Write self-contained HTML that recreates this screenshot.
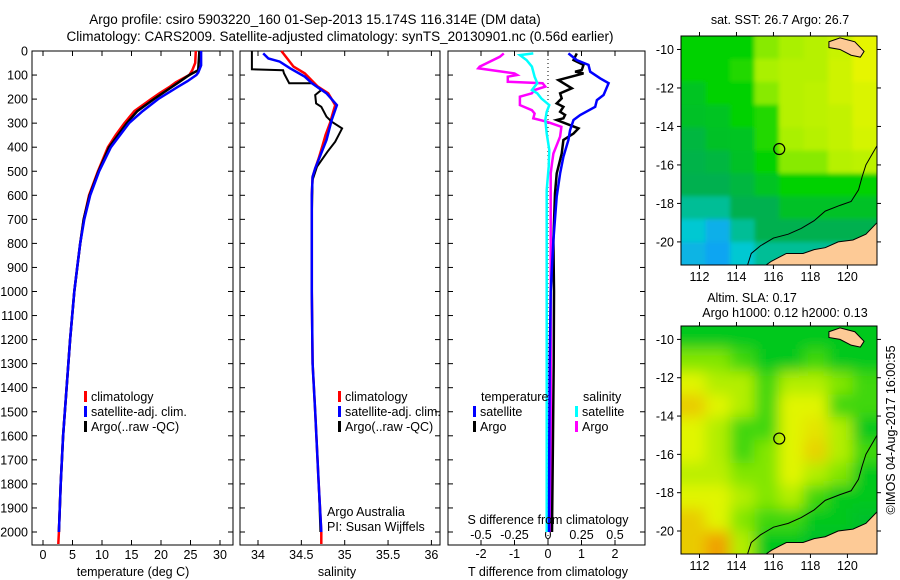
<!DOCTYPE html>
<html><head><meta charset="utf-8"><style>
body{margin:0;background:#fff;}
svg{display:block;font-family:"Liberation Sans",sans-serif;}
text{font-size:12.5px;fill:#000;}
</style></head><body>
<svg id="fig" width="900" height="580" viewBox="0 0 900 580">
<defs>
<clipPath id="clipTop"><rect x="681" y="36" width="196" height="229"/></clipPath>
<clipPath id="clipBot"><rect x="681" y="326" width="196" height="228"/></clipPath>
<filter id="blurA" x="-20%" y="-20%" width="140%" height="140%"><feGaussianBlur stdDeviation="2"/></filter>
<filter id="blurB" x="-20%" y="-20%" width="140%" height="140%"><feGaussianBlur stdDeviation="7"/></filter>
</defs>
<text x="315" y="24" text-anchor="middle" style="font-size:13.5px">Argo profile: csiro 5903220_160 01-Sep-2013 15.174S 116.314E (DM data)</text>
<text x="340" y="41" text-anchor="middle" style="font-size:13.5px">Climatology: CARS2009. Satellite-adjusted climatology: synTS_20130901.nc (0.56d earlier)</text>
<g id="panels"></g>
<g id="maps"></g>
<text x="780" y="24" text-anchor="middle">sat. SST: 26.7 Argo: 26.7</text>
<text x="752" y="302" text-anchor="middle">Altim. SLA: 0.17</text>
<text x="785" y="317" text-anchor="middle">Argo h1000: 0.12 h2000: 0.13</text>
<text transform="translate(895,430) rotate(-90)" text-anchor="middle">©IMOS 04-Aug-2017 16:00:55</text>
</svg>
<script>
// ---------- DATA ----------
const tempClimDepth=[0,50,80,100,130,150,175,200,250,300,350,400,500,600,700,800,900,1000,1200,1400,1600,1800,2000,2050];
const tempClim=[25.9,25.8,25.3,24.8,22.5,21.4,19.8,18.3,15.5,13.8,12.3,11,9.3,7.8,6.9,6.3,5.8,5.3,4.6,4.0,3.4,3.0,2.7,2.6];
const tempSatDepth=[0,60,90,100,125,150,200,250,300,400,500,600,700,800,900,1000,1200,1400,1600,1800,2000];
const tempSat=[26.8,26.8,26.3,26,24.5,22.8,19.5,16.9,14.6,11.5,9.5,8,7,6.3,5.8,5.3,4.6,4.0,3.4,3.0,2.7];
const tempArgoDepth=[0,80,100,130,150,200,250,300,400,500,600,700,800,1000,1200,1400,1600,1800,2000];
const tempArgo=[26.5,26.3,24.8,23,21.8,18.8,16,14.2,11.2,9.4,7.9,6.9,6.3,5.3,4.6,4,3.4,3,2.7];

const salClimDepth=[0,65,93,148,176,225,250,300,349,398,446,488,523,600,1000,1300,1500,1800,2000,2050];
const salClim=[34.27,34.41,34.54,34.69,34.81,34.89,34.87,34.83,34.78,34.74,34.7,34.66,34.63,34.62,34.62,34.63,34.66,34.7,34.73,34.73];
const salSatDepth=[10,31,44,72,107,134,176,225,287,370,488,523,600,1000,1300,1500,1800,2000];
const salSat=[34.06,34.12,34.25,34.37,34.54,34.62,34.79,34.91,34.85,34.79,34.66,34.63,34.62,34.62,34.63,34.66,34.7,34.73];
const salArgoDepth=[0,76,80,93,134,134,162,183,218,232,273,294,322,377,419,481,536,700,1000,1300,1500,1800,2000];
const salArgo=[33.93,33.93,34.29,34.3,34.36,34.62,34.73,34.66,34.67,34.73,34.79,34.85,34.97,34.89,34.8,34.68,34.63,34.62,34.62,34.63,34.66,34.7,34.72];

const dTsatDepth=[10,38,58,86,114,134,183,204,232,266,287,329,370,440,509,606,786,1000,1300,1600,2000];
const dTsat=[0.61,0.86,1.21,1.26,1.56,1.81,1.66,1.46,1.41,0.96,0.76,0.66,0.61,0.46,0.36,0.26,0.16,0.08,0.05,0.04,0.03];
const dTargoDepth=[10,38,58,79,86,93,121,155,176,197,218,232,253,266,280,287,322,343,370,426,481,509,592,786,1000,1300,1600,2000];
const dTargo=[0.86,0.76,1.06,1.01,0.81,1.06,0.31,0.71,0.36,0.41,0.26,0.46,0.36,0.51,0.46,0.26,0.91,0.76,0.46,0.41,0.31,0.26,0.21,0.16,0.18,0.17,0.15,0.12];
const dSsatDepth=[10,17,38,65,107,134,162,176,197,225,253,287,343,412,481,578,786,1200,1600,2000];
const dSsat=[-0.11,-0.21,-0.16,-0.12,-0.1,-0.08,-0.12,-0.08,-0.05,0.01,-0.01,-0.02,-0.01,0.01,0.005,-0.01,-0.01,-0.01,-0.01,-0.01];
const dSargoDepth=[10,24,65,72,93,100,107,128,134,148,162,176,190,225,246,260,280,294,315,356,384,426,467,509,786,1200,1600,2000];
const dSargo=[-0.33,-0.36,-0.51,-0.52,-0.25,-0.23,-0.3,-0.3,-0.04,-0.02,-0.1,-0.12,-0.21,-0.21,-0.12,-0.1,-0.11,-0.01,0.1,0.09,0.07,0.04,0.03,0.02,0.02,0.02,0.02,0.02];

const depthTicks=[0,100,200,300,400,500,600,700,800,900,1000,1100,1200,1300,1400,1500,1600,1700,1800,1900,2000];
const tempTicks=[0,5,10,15,20,25,30];
const salTicks=[34,34.5,35,35.5,36];
const dTTicks=[-2,-1,0,1,2];
const dSTicks=[-0.5,-0.25,0,0.25,0.5];

// maps: lon 111.0..121.6, lat -9.3..-21.2 ; 8 cols x 10 rows
const sstGrid=[
[3,3,3,3.8,4,4.2,4.5,5],
[3,3,3.2,4,4.2,4.2,4.6,5],
[2.6,3,3,3.8,4.2,4.3,4.6,4.8],
[2.5,2.6,3,3.2,4.2,4.3,4.4,4.8],
[2.2,2.5,2.6,3.2,4,4.2,4.4,4.7],
[2.1,2.2,2.5,3,3.8,3.8,4.2,4.3],
[2,2,2.2,2.6,3,3,3,3],
[1.5,1.5,2,2,2.5,2.5,2.5,2.5],
[1,0.5,1.5,2,2,2,2,2],
[0.6,0.3,1,1.5,1.5,1.5,1.5,1.5]];
const slaGrid=[
[1,1,1,1,1,1,1,1],
[2,2,1.5,1,1,1.5,1,1],
[3,2.5,2.5,1.5,2.5,2.5,2,1.5],
[3.5,3,2.5,1.5,3,3,1.5,1.5],
[3,2.5,1.5,1.5,3,3.2,2.5,1],
[3,2.5,1.5,2,3,3.4,2.5,1.5],
[2.6,2.6,2,2,3,2.5,2,1],
[3,3,2.5,2,2.5,1.5,1,1],
[3.5,3,2,1.5,1.5,1,1,0.8],
[3.5,4,2.5,1,1,0.8,0.8,0.8]];
const coastLon=[121.6,121,120.3,119.5,118.8,118.2,117.6,117,116.7,116.3,115.9,115.6];
const coastLat=[-19.0,-19.6,-19.9,-20.0,-20.3,-20.4,-20.6,-20.6,-20.6,-20.8,-21.0,-21.2];
const islandLon=[119,119.6,120.4,120.9,120.7,120.2,119.6,119.0];
const islandLat=[-9.6,-9.4,-9.6,-10.1,-10.4,-10.3,-10.0,-9.9];
const contourLon=[114.6,114.8,115.3,116,116.8,117.5,118.2,118.8,119.6,120.2,120.6,120.8,121,121.6];
const contourLat=[-21.2,-20.6,-20.2,-19.8,-19.6,-19.3,-18.9,-18.4,-18.1,-17.9,-17.3,-16.6,-16.0,-15.0];
const floatLon=116.314, floatLat=-15.174;
const lonTicks=[112,114,116,118,120];
const latTicks=[-10,-12,-14,-16,-18,-20];

// ---------- DRAW ----------
const NS="http://www.w3.org/2000/svg";
function mk(tag,attrs,parent){const e=document.createElementNS(NS,tag);for(const k in attrs)e.setAttribute(k,attrs[k]);parent.appendChild(e);return e;}
const P=document.getElementById('panels');
const yD=d=>51+d*0.2405;
const PT=51,PB=545;
const xT=v=>43+v*5.9;
const xS=v=>258+(v-34)*86.7;
const xdT=v=>548+v*33.5;
const xdS=v=>548+v*134;

function frame(x0,x1,name){
  const r=mk('rect',{x:x0,y:PT,width:x1-x0,height:PB-PT,fill:'none',stroke:'#000','stroke-width':1},P);
  
  
  depthTicks.forEach(d=>{mk('line',{x1:x0,x2:x0+5,y1:yD(d),y2:yD(d),stroke:'#000'},P);mk('line',{x1:x1-5,x2:x1,y1:yD(d),y2:yD(d),stroke:'#000'},P);});
}
function xticks(ticks,fx,y,labels){
  ticks.forEach(v=>{const x=fx(v);mk('line',{x1:x,x2:x,y1:PT,y2:PT+5,stroke:'#000'},P);mk('line',{x1:x,x2:x,y1:PB-5,y2:PB,stroke:'#000'},P);
    if(labels){const t=mk('text',{x:x,y:y,'text-anchor':'middle'},P);t.textContent=String(v);
      
      }});
}
function series(ds,vs,fx,color,w,name){
  const pts=ds.map((d,i)=>fx(vs[i]).toFixed(1)+','+yD(d).toFixed(1)).join(' ');
  const p=mk('polyline',{points:pts,fill:'none',stroke:color,'stroke-width':w,'stroke-linejoin':'miter'},P);
  
  
}
function label(x,y,s,name,anchor){const t=mk('text',{x:x,y:y,'text-anchor':anchor||'start'},P);t.textContent=s;
  
  return t;}
function legend(x,y,color,s,name){mk('rect',{x:x,y:y-10,width:3,height:11,fill:color},P);label(x+7,y,s,name);}

// panel 1
frame(32,233,'temperature-panel');
depthTicks.forEach(d=>{label(28,yD(d)+4.5,String(d),'depth-tick-label','end');});
xticks(tempTicks,xT,559,true);
series(tempClimDepth,tempClim,xT,'#ff0000',2.5,'temp-climatology-line');
series(tempArgoDepth,tempArgo,xT,'#000000',2.5,'temp-argo-line');
series(tempSatDepth,tempSat,xT,'#0000ff',2.5,'temp-satellite-line');
label(133,576,'temperature (deg C)','temperature-axis-title','middle');
legend(84,401,'#ff0000','climatology','legend-climatology');
legend(84,416,'#0000ff','satellite-adj. clim.','legend-satellite-adj');
legend(84,431,'#000000','Argo(..raw -QC)','legend-argo');

// panel 2
frame(240,440,'salinity-panel');
xticks(salTicks,xS,559,true);
series(salClimDepth,salClim,xS,'#ff0000',2.5,'sal-climatology-line');
series(salArgoDepth,salArgo,xS,'#000000',2,'sal-argo-line');
series(salSatDepth,salSat,xS,'#0000ff',2.5,'sal-satellite-line');
label(337,576,'salinity','salinity-axis-title','middle');
legend(338,401,'#ff0000','climatology','legend-climatology-2');
legend(338,416,'#0000ff','satellite-adj. clim.','legend-satellite-adj-2');
legend(338,431,'#000000','Argo(..raw -QC)','legend-argo-2');
label(327,516,'Argo Australia','credit-line-1');
label(327,531,'PI: Susan Wijffels','credit-line-2');

// panel 3
frame(448,645,'difference-panel');
xticks(dTTicks,xdT,558,true);
dSTicks.forEach(v=>{const t=label(xdS(v),539,String(v),'s-diff-tick-label','middle');});
mk('line',{x1:548,x2:548,y1:PT,y2:PB,stroke:'#000','stroke-dasharray':'1,3'},P);
series(dSargoDepth,dSargo,xdS,'#ff00ff',2.5,'sdiff-argo-line');
series(dSsatDepth,dSsat,xdS,'#00ffff',2.5,'sdiff-satellite-line');
series(dTargoDepth,dTargo,xdT,'#000000',2.5,'tdiff-argo-line');
series(dTsatDepth,dTsat,xdT,'#0000ff',2.5,'tdiff-satellite-line');
label(481,401,'temperature','legend-temperature-header');
label(583,401,'salinity','legend-salinity-header');
legend(473,416,'#0000ff','satellite','legend-t-satellite');
legend(473,431,'#000000','Argo','legend-t-argo');
legend(575,416,'#00ffff','satellite','legend-s-satellite');
legend(575,431,'#ff00ff','Argo','legend-s-argo');
label(548,524,'S difference from climatology','s-diff-axis-title','middle');
label(548,576,'T difference from climatology','t-diff-axis-title','middle');

// ---------- MAPS ----------
const M=document.getElementById('maps');
function lerpC(stops,v){
  for(let i=0;i<stops.length-1;i++){const a=stops[i],b=stops[i+1];
    if(v<=b[0]||i==stops.length-2){const t=Math.max(0,Math.min(1,(v-a[0])/(b[0]-a[0])));
      const c=a[1].map((x,k)=>Math.round(x+(b[1][k]-x)*t));return 'rgb('+c.join(',')+')';}}
}
const sstStops=[[0,[20,150,255]],[1,[0,200,210]],[1.5,[0,190,150]],[2,[0,176,80]],[3,[0,210,0]],[4,[170,240,0]],[5,[230,245,0]]];
const slaStops=[[0,[0,160,96]],[1,[0,200,30]],[2,[130,230,0]],[3,[225,245,0]],[4,[240,160,0]]];
function drawMap(grid,stops,top,bot,clip,blur,name){
  const L=681,R=877,lon0=111.0,lon1=121.6,lat0=-9.3,lat1=-21.2;
  const fx=lo=>L+(lo-lon0)/(lon1-lon0)*(R-L);
  const fy=la=>top+(la-lat0)/(lat1-lat0)*(bot-top);
  const g=mk('g',{'clip-path':'url(#'+clip+')'},M);
  
  
  const gh=mk('g',{filter:'url(#'+blur+')'},g);
  const nr=grid.length,nc=grid[0].length,cw=(R-L)/nc,ch=(bot-top)/nr;
  grid.forEach((row,r)=>row.forEach((v,c)=>{
    let x=L+c*cw,y=top+r*ch,w=cw+0.6,h=ch+0.6;
    if(c==0){x-=20;w+=20;} if(c==nc-1){w+=20;} if(r==0){y-=20;h+=20;} if(r==nr-1){h+=20;}
    const cell=mk('rect',{x:x,y:y,width:w,height:h,fill:lerpC(stops,v)},gh);
    
    
  }));
  const land=coastLon.map((lo,i)=>fx(lo)+','+fy(coastLat[i])).join(' ')+' '+(R+5)+','+(bot+5)+' '+(R+5)+','+fy(-19.0);
  const lp=mk('polygon',{points:land,fill:'#fdca96',stroke:'#000','stroke-width':1},g);
  
  
  const ip=mk('polygon',{points:islandLon.map((lo,i)=>fx(lo)+','+fy(islandLat[i])).join(' '),fill:'#fdca96',stroke:'#000','stroke-width':1},g);
  
  
  const cl=mk('polyline',{points:contourLon.map((lo,i)=>fx(lo)+','+fy(contourLat[i])).join(' '),fill:'none',stroke:'#000','stroke-width':1},g);
  
  
  const fc=mk('circle',{cx:fx(floatLon),cy:fy(floatLat),r:5.5,fill:'none',stroke:'#000','stroke-width':1.2},M);
  
  
  mk('rect',{x:L,y:top,width:R-L,height:bot-top,fill:'none',stroke:'#000'},M);
  lonTicks.forEach(lo=>{const x=fx(lo);mk('line',{x1:x,x2:x,y1:top-4,y2:top,stroke:'#000'},M);mk('line',{x1:x,x2:x,y1:bot,y2:bot+4,stroke:'#000'},M);
    const t=mk('text',{x:x,y:bot+16,'text-anchor':'middle'},M);t.textContent=String(lo);
    
    });
  latTicks.forEach(la=>{const y=fy(la);mk('line',{x1:L-4,x2:L,y1:y,y2:y,stroke:'#000'},M);mk('line',{x1:R,x2:R+4,y1:y,y2:y,stroke:'#000'},M);
    const t=mk('text',{x:L-7,y:y+4.5,'text-anchor':'end'},M);t.textContent=String(la);
    
    });
}
drawMap(sstGrid,sstStops,36,265,'clipTop','blurA','sst-map');
drawMap(slaGrid,slaStops,326,554,'clipBot','blurB','sla-map');
</script>
</body></html>
